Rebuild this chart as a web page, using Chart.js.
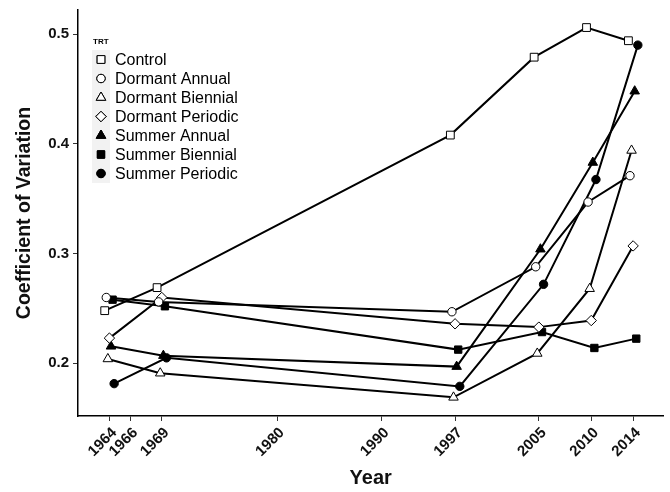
<!DOCTYPE html>
<html>
<head>
<meta charset="utf-8">
<script src="https://cdn.jsdelivr.net/npm/chart.js@4.4.1/dist/chart.umd.min.js"></script>
<style>
  body { margin: 0; background: #fff; }
  #wrap { width: 670px; height: 492px; }
</style>
</head>
<body>
<div id="wrap"><canvas id="cv-chart" width="670" height="492"></canvas></div>
<script>
// sampling years and axis tick years
var years = [1964, 1969, 1997, 2005, 2010, 2014];
var tickYears = [1964, 1966, 1969, 1980, 1990, 1997, 2005, 2010, 2014];
var yTicks = [0.2, 0.3, 0.4, 0.5];

var treatments = ['Control', 'Dormant Annual', 'Dormant Biennial', 'Dormant Periodic',
                  'Summer Annual', 'Summer Biennial', 'Summer Periodic'];

var control         = [0.248, 0.269, 0.408, 0.479, 0.506, 0.494];
var dormantAnnual   = [0.260, 0.256, 0.247, 0.288, 0.347, 0.371];
var dormantBiennial = [0.204, 0.191, 0.169, 0.209, 0.268, 0.394];
var dormantPeriodic = [0.223, 0.260, 0.236, 0.233, 0.239, 0.307];
var summerAnnual    = [0.2155, 0.207, 0.197, 0.304, 0.383, 0.448];
var summerBiennial  = [0.258, 0.252, 0.2125, 0.2285, 0.214, 0.2225];
var summerPeriodic  = [0.1815, 0.205, 0.179, 0.272, 0.3675, 0.490];

var seriesValues = [control, dormantAnnual, dormantBiennial, dormantPeriodic,
                    summerAnnual, summerBiennial, summerPeriodic];

var shapes = [
    { style: 'rect', fill: '#fff', r: 5.5 },
    { style: 'circle', fill: '#fff', r: 4.2 },
    { style: 'triangle', fill: '#fff', r: 5.5 },
    { style: 'rectRot', fill: '#fff', r: 5.2 },
    { style: 'triangle', fill: '#000', r: 5.5 },
    { style: 'rect', fill: '#000', r: 5.2 },
    { style: 'circle', fill: '#000', r: 4.2 }
];

var FONT = "'Liberation Sans', Arial, sans-serif";
var dodge = 0.15;

var datasets = treatments.map(function (name, i) {
    var off = (i - 3) * dodge;
    return {
        label: name,
        data: years.map(function (yr, j) { return { x: yr + off, y: seriesValues[i][j] }; }),
        borderColor: '#000',
        borderWidth: 2,
        tension: 0,
        pointStyle: shapes[i].style,
        pointRadius: shapes[i].r,
        pointHoverRadius: shapes[i].r,
        pointBackgroundColor: shapes[i].fill,
        pointBorderColor: '#000',
        pointBorderWidth: 1
    };
});

var insideLegend = {
    id: 'insideLegend',
    afterDraw: function (chart) {
        var ctx = chart.ctx;
        ctx.save();
        ctx.fillStyle = '#000';
        ctx.font = 'bold 8px ' + FONT;
        ctx.textBaseline = 'middle';
        ctx.fillText('TRT', 93, 42);
        var rowH = 19, top = 50;
        ctx.fillStyle = '#f2f2f2';
        ctx.fillRect(92, top, 18, rowH * treatments.length);
        treatments.forEach(function (name, i) {
            var cy = top + rowH * i + rowH / 2;
            Chart.helpers.drawPoint(ctx, {
                pointStyle: shapes[i].style,
                radius: shapes[i].r,
                rotation: 0,
                borderWidth: 1
            }, 101, cy);
            ctx.fillStyle = shapes[i].fill;
            ctx.strokeStyle = '#000';
            ctx.lineWidth = 1;
            ctx.fill();
            ctx.stroke();
            ctx.fillStyle = '#000';
            ctx.font = '16px ' + FONT;
            ctx.fillText(name, 115, cy + 1);
        });
        ctx.restore();
    }
};

var ctx = document.getElementById('cv-chart').getContext('2d');
var cvChart = new Chart(ctx, {
    type: 'line',
    data: { datasets: datasets },
    plugins: [insideLegend],
    options: {
        responsive: false,
        animation: false,
        layout: { padding: { left: 5, right: 5, top: 10, bottom: 2 } },
        plugins: {
            legend: { display: false },
            tooltip: { enabled: false }
        },
        scales: {
            x: {
                type: 'linear',
                min: 1961,
                max: 2016.9,
                afterBuildTicks: function (scale) {
                    scale.ticks = tickYears.map(function (v) { return { value: v }; });
                },
                afterFit: function (scale) { scale.height = 74; },
                ticks: {
                    autoSkip: false,
                    minRotation: 45,
                    maxRotation: 45,
                    color: '#111',
                    font: { family: FONT, size: 15, weight: 'bold' },
                    padding: 3,
                    labelOffset: 5,
                    callback: function (v) { return String(v); }
                },
                grid: { drawOnChartArea: false, drawTicks: true, tickLength: 5, color: '#333' },
                border: { display: true, color: '#000', width: 1.5 },
                title: {
                    display: true,
                    text: 'Year',
                    color: '#111',
                    font: { family: FONT, size: 20, weight: 'bold' },
                    padding: { top: 0, bottom: 0 }
                }
            },
            y: {
                min: 0.152,
                max: 0.522,
                afterBuildTicks: function (scale) {
                    scale.ticks = yTicks.map(function (v) { return { value: v }; });
                },
                afterFit: function (scale) {
                    scale.width = 73;
                    scale.paddingTop = 0;
                    scale.paddingBottom = 0;
                },
                ticks: {
                    color: '#111',
                    font: { family: FONT, size: 15, weight: 'bold' },
                    padding: 4,
                    callback: function (v) { return v.toFixed(1); }
                },
                grid: { drawOnChartArea: false, drawTicks: true, tickLength: 5, color: '#333' },
                border: { display: true, color: '#000', width: 1.5 },
                title: {
                    display: true,
                    text: 'Coefficient of Variation',
                    color: '#111',
                    font: { family: FONT, size: 19.5, weight: 'bold' },
                    padding: { top: 8, bottom: 0 }
                }
            }
        }
    }
});
</script>
</body>
</html>
